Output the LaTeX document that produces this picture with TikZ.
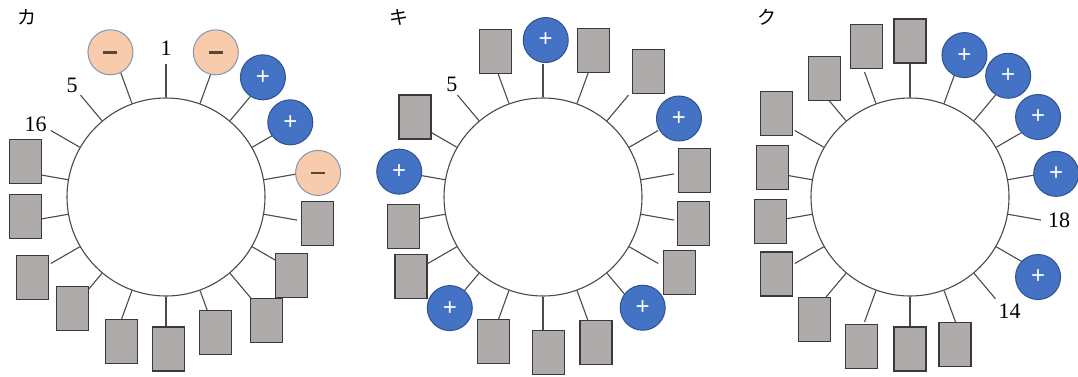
\documentclass[tikz,border=0pt]{standalone}
\usepackage{fontspec}
\setmainfont{Liberation Serif}
\newfontfamily\jpfont{Noto Sans CJK JP}
\newfontfamily\plusfont{Liberation Sans}
\definecolor{wline}{HTML}{4A4A4A}
\definecolor{rfill}{HTML}{AFABAB}
\definecolor{rline}{HTML}{3A3A3A}
\definecolor{pfill}{HTML}{4472C4}
\definecolor{pline}{HTML}{2F528F}
\definecolor{mfill}{HTML}{F8CBAD}
\definecolor{mline}{HTML}{8496B0}
\definecolor{mbar}{HTML}{5B4535}
\begin{document}
\begin{tikzpicture}[x=1pt,y=1pt,
	w/.style={circle,draw=wline,line width=1.1pt,fill=white,minimum size=198pt,inner sep=0pt},
	sp/.style={draw=wline,line width=1.1pt},
	r/.style={rectangle,draw=rline,line width=1.1pt,fill=rfill,minimum width=32pt,minimum height=44pt,inner sep=0pt,node contents={}},
	p/.style={circle,draw=pline,line width=1pt,fill=pfill,minimum size=45pt,inner sep=0pt,text=white,font=\plusfont\fontsize{24}{24}\selectfont,node contents={+}},
	m/.style={circle,draw=mline,line width=1pt,fill=mfill,minimum size=45pt,inner sep=0pt,node contents={\color{mbar}\rule{14pt}{2.6pt}}},
	num/.style={font=\fontsize{22}{24}\selectfont,inner sep=1pt},
	kana/.style={font=\jpfont\fontsize{19}{19}\selectfont}]
	\useasboundingbox (0,0) rectangle (1078,376);
	% wheel: name, x, side chains (kind/angle/distance), numbers (text/angle/distance)
	\newcommand{\wheel}[4]{
		\node[w] (#1) at (#2,179) {};
		\foreach \a [count=\i] in {10,30,...,350} {
			\coordinate (#1-e\i) at ([shift={(\a:133)}]#1.center);
			\draw[sp] (#1.\a) -- (#1-e\i);}
		\foreach \k/\a/\d [count=\i] in {#3} \node (#1-o\i) at ([shift={(\a:\d)}]#1.center) [\k];
		\foreach \t/\a/\d [count=\i] in {#4} \node[num] (#1-n\i) at ([shift={(\a:\d)}]#1.center) {\t};}
	\wheel{ka}{166}{m/111/155,m/71/153,p/51/154,p/31/145,m/9/154,r/-10/154,r/-32/148,r/-51/159,r/-70/144,r/-89/152,r/-107/151,r/-130/146,r/-149/156,r/-172/142,r/166/145}{1/90/149,5/130/146,16/151/149}
	\wheel{ki}{543}{p/89/157,r/108/153,r/148/151,p/170/146,r/192/143,r/211/154,p/230/145,r/251/153,r/272/156,r/290/155,p/312/149,r/331/156,r/350/153,r/10/154,p/30/157,r/50/164,r/71/155}{5/129/145}
	\wheel{ku}{910}{r/90/156,r/106/157,r/126/146,r/148/157,r/168/141,r/190/142,r/210/154,r/232/155,r/252/157,r/270/152,r/287/154,p/328/151,p/9/148,p/32/151,p/51/156,p/69/152}{14/311/152,18/351/151}
	\node[kana] (ka-t) at (27,359) {カ};
	\node[kana] (ki-t) at (399,359) {キ};
	\node[kana] (ku-t) at (767,359) {ク};
\end{tikzpicture}
\end{document}
